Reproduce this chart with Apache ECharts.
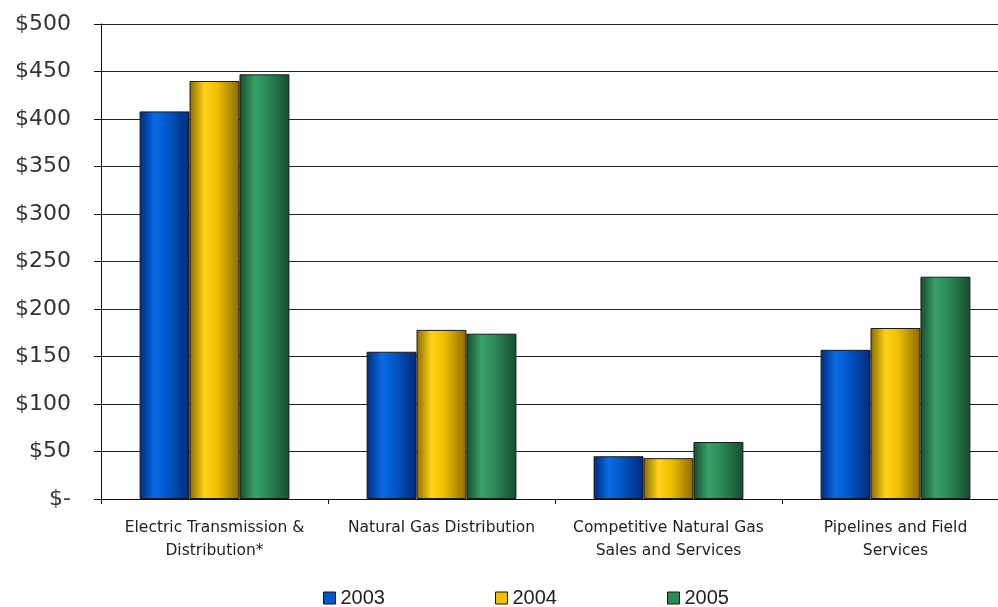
<!DOCTYPE html>
<html>
<head>
<meta charset="utf-8">
<script src="https://cdn.jsdelivr.net/npm/echarts@6/dist/echarts.min.js"></script>
<style>html,body{margin:0;padding:0;background:#fff;overflow:hidden;width:998px;height:607px;}#c{width:1012px;height:607px;}</style>
</head>
<body>
<div id="c"></div>
<script>
var categories = ["Electric Transmission &\nDistribution*", "Natural Gas Distribution", "Competitive Natural Gas\nSales and Services", "Pipelines and Field\nServices"];
var seriesNames = ["2003", "2004", "2005"];
var values2003 = [408, 155, 45, 157];
var values2004 = [440, 178, 43, 180];
var values2005 = [447, 174, 60, 234];
var yMin = 0, yMax = 500, yStep = 50;

function grad(dark, mid, light) {
  return new echarts.graphic.LinearGradient(0, 0, 1, 0, [
    {offset: 0, color: dark},
    {offset: 0.3, color: light},
    {offset: 0.55, color: mid},
    {offset: 1, color: dark}
  ]);
}
var fills = [
  grad('#002a78', '#0058c8', '#0a6ae6'),
  grad('#8a6a00', '#f0c000', '#ffd21a'),
  grad('#174d2e', '#2c8a58', '#38a066')
];
var legendColors = ['#0058c8', '#f0c000', '#2c8a58'];
var data = [values2003, values2004, values2005];

var chart = echarts.init(document.getElementById('c'));
chart.setOption({
  backgroundColor: '#ffffff',
  animation: false,
  grid: {left: 101, top: 24, width: 908, height: 475, containLabel: false},
  legend: {
    top: 583, left: 318, itemGap: 110, itemWidth: 12, itemHeight: 12,
    icon: 'rect',
    textStyle: {fontFamily: 'Liberation Sans', fontSize: 20, color: '#222', padding: [0,0,0,0]},
    data: seriesNames.map(function(n, i){ return {name: n, itemStyle: {color: legendColors[i], borderColor: '#111', borderWidth: 1}}; })
  },
  xAxis: {
    type: 'category', data: categories,
    axisLine: {show: true, lineStyle: {color: '#111', width: 1}},
    axisTick: {show: true, length: 5, lineStyle: {color: '#111'}},
    axisLabel: {margin: 17, fontFamily: 'DejaVu Sans', fontSize: 15.5, color: '#222', lineHeight: 23, interval: 0}
  },
  yAxis: {
    type: 'value', min: yMin, max: yMax, interval: yStep,
    axisLine: {show: true, lineStyle: {color: '#111', width: 1}},
    axisTick: {show: true, length: 7, lineStyle: {color: '#111'}},
    splitLine: {show: true, lineStyle: {color: '#222', width: 1}},
    axisLabel: {margin: 30, fontFamily: 'DejaVu Sans', fontSize: 22, color: '#333',
      formatter: function(v){ return v === 0 ? '$-' : '$' + v; }}
  },
  series: data.map(function(d, i){
    return {
      name: seriesNames[i], type: 'bar', data: d,
      barGap: '0%', barCategoryGap: '34%',
      itemStyle: {color: fills[i], borderColor: '#1a1a1a', borderWidth: 1}
    };
  })
});
</script>
</body>
</html>
